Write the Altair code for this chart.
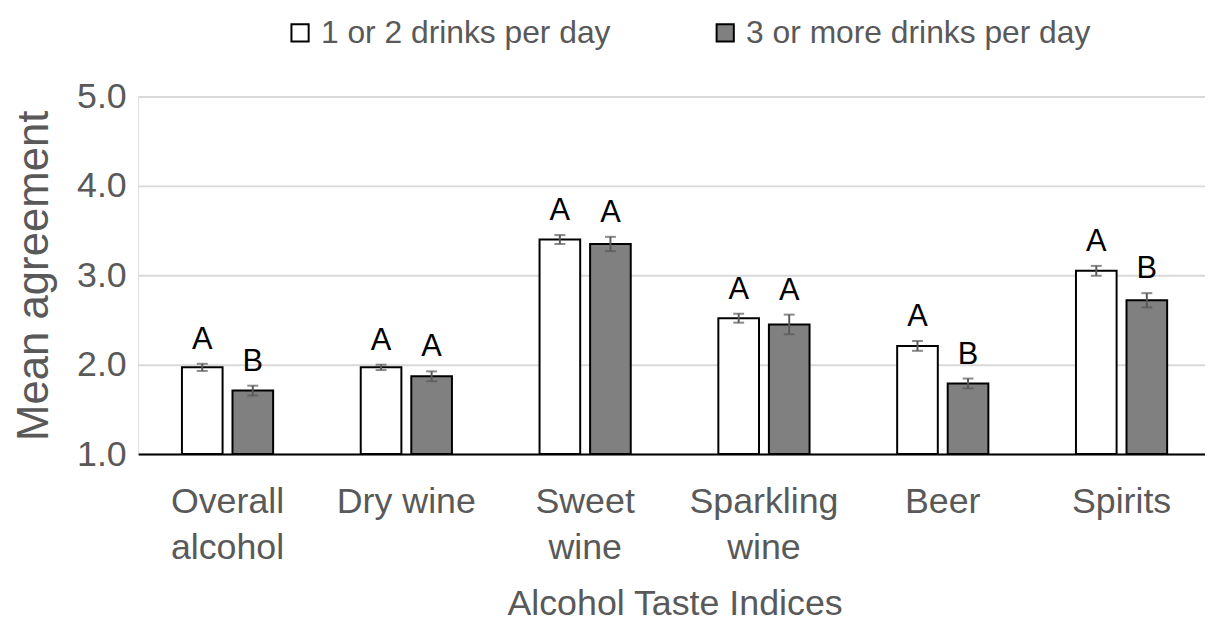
import altair as alt
import pandas as pd

categories = ["Overall\nalcohol", "Dry wine", "Sweet\nwine", "Sparkling\nwine", "Beer", "Spirits"]
groups = ["1 or 2 drinks per day", "3 or more drinks per day"]
mean_light = [1.97, 1.97, 3.40, 2.52, 2.21, 3.05]
mean_heavy = [1.71, 1.87, 3.35, 2.45, 1.79, 2.72]
err_light = [0.04, 0.03, 0.05, 0.05, 0.055, 0.055]
err_heavy = [0.055, 0.055, 0.08, 0.11, 0.055, 0.08]
letters_light = ["A", "A", "A", "A", "A", "A"]
letters_heavy = ["B", "A", "A", "A", "B", "B"]

rows = []
for i, c in enumerate(categories):
    for g, m, e, l in ((groups[0], mean_light[i], err_light[i], letters_light[i]),
                       (groups[1], mean_heavy[i], err_heavy[i], letters_heavy[i])):
        rows.append({"cat": c, "group": g, "mean": m, "lo": m - e, "hi": m + e, "letter": l})
df = pd.DataFrame(rows)

FONT = "Liberation Sans, Arial, sans-serif"
GREY_TXT = "#595959"

x = alt.X("cat:N", sort=categories,
          scale=alt.Scale(range=[0, 1080], paddingInner=0.49, paddingOuter=0.245),
          axis=alt.Axis(title="Alcohol Taste Indices", labelAngle=0,
                        labelExpr="split(datum.label, '\\n')",
                        labelFont=FONT, labelFontSize=36, labelColor=GREY_TXT,
                        labelLineHeight=46, labelPadding=31, ticks=False, labelLimit=400,
                        domainColor="black", domainWidth=2,
                        titleFont=FONT, titleFontSize=36, titleColor=GREY_TXT,
                        titleFontWeight="normal", titlePadding=21))
xo = alt.XOffset("group:N", sort=groups, scale=alt.Scale(paddingInner=0.196, paddingOuter=0))
yscale = alt.Scale(domain=[1, 5], zero=False, nice=False)

base = alt.Chart(df)

bars = base.mark_bar(stroke="black", strokeWidth=2).encode(
    x=x, xOffset=xo,
    y=alt.Y("mean:Q", scale=yscale,
            axis=alt.Axis(title="Mean agreement", values=[1, 2, 3, 4, 5], format=".1f",
                          labelFont=FONT, labelFontSize=36, labelColor=GREY_TXT,
                          labelPadding=12, ticks=False, domain=False,
                          gridColor="#d9d9d9", gridWidth=2,
                          titleFont=FONT, titleFontSize=44, titleColor=GREY_TXT,
                          titleFontWeight="normal", titlePadding=20)),
    y2=alt.datum(1),
    color=alt.Color("group:N", sort=groups,
                    scale=alt.Scale(domain=groups, range=["white", "#808080"]),
                    legend=alt.Legend(title=None, orient="none", direction="horizontal",
                                      legendX=147, legendY=-80,
                                      symbolType="square", symbolSize=300,
                                      symbolStrokeColor="black", symbolStrokeWidth=2,
                                      labelFont=FONT, labelFontSize=32, labelColor=GREY_TXT,
                                      labelOffset=5, columnPadding=99, labelLimit=500)),
)

rules = base.mark_rule(color=GREY_TXT, strokeWidth=2).encode(
    x=x, xOffset=xo, y=alt.Y("lo:Q", scale=yscale), y2="hi:Q")
ticks_lo = base.mark_tick(color=GREY_TXT, thickness=2, size=11).encode(
    x=x, xOffset=xo, y=alt.Y("lo:Q", scale=yscale))
ticks_hi = base.mark_tick(color=GREY_TXT, thickness=2, size=11).encode(
    x=x, xOffset=xo, y=alt.Y("hi:Q", scale=yscale))
labels = base.mark_text(baseline="bottom", dy=-8, font=FONT, fontSize=31, color="black").encode(
    x=x, xOffset=xo, y=alt.Y("hi:Q", scale=yscale), text="letter:N")

chart = alt.layer(bars, rules, ticks_lo, ticks_hi, labels).properties(
    width=1074, height=360,
    autosize=alt.AutoSizeParams(type="none"),
    padding={"left": 131, "top": 87, "right": 0, "bottom": 172},
).configure_view(stroke=None).configure(background="white")

chart.save("out.html", embed_options={"renderer": "svg", "actions": False})
